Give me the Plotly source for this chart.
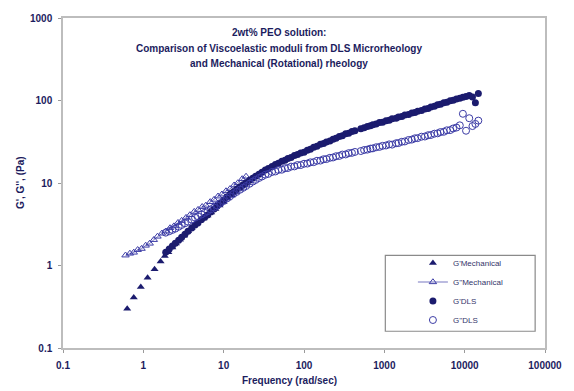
import plotly.graph_objects as go

# ---------------- data ----------------
mech_freq_gp = [0.63, 0.76, 0.93, 1.13, 1.38, 1.64, 1.85, 2.05, 2.3, 2.55,
                2.85, 3.2, 3.6, 4.0, 4.5, 5.0, 5.6, 6.3, 7.0, 7.9,
                8.9, 10, 11.2, 12.6, 14, 15.8, 17.7, 19.5]
mech_gp = [0.30, 0.41, 0.55, 0.71, 0.90, 1.12, 1.3, 1.45, 1.65, 1.85,
           2.05, 2.3, 2.6, 2.85, 3.15, 3.45, 3.7, 4.05, 4.4, 4.85,
           5.35, 5.9, 6.5, 7.1, 7.8, 8.5, 9.3, 10.0]

mech_freq_gpp = [0.6, 0.68, 0.76, 0.85, 0.95, 1.07, 1.2, 1.35, 1.5, 1.7,
                 1.9, 2.15, 2.4, 2.7, 3.0, 3.4, 3.8, 4.3, 4.8, 5.4,
                 6.0, 6.8, 7.6, 8.5, 9.5, 10.7, 12, 13.5, 15, 17, 19]
mech_gpp = [1.33, 1.40, 1.44, 1.55, 1.60, 1.75, 1.85, 2.05, 2.25, 2.45,
            2.6, 2.85, 3.0, 3.3, 3.5, 3.8, 4.1, 4.5, 4.75, 5.15,
            5.35, 5.9, 6.3, 6.9, 7.3, 8.0, 8.5, 9.4, 10.0, 11.2, 12.0]

dls_freq = [1.9, 2.1, 2.3, 2.5, 2.75, 3.0, 3.3, 3.6, 4.0, 4.4,
            4.8, 5.3, 5.8, 6.3, 6.9, 7.6, 8.3, 9.1, 10, 11,
            12, 13.2, 14.5, 16, 17.5, 19, 21, 23, 25, 27.5,
            30, 33, 36, 40, 44, 48, 53, 58, 63, 69,
            76, 83, 91, 100, 110, 120, 132, 145, 160, 175,
            190, 210, 230, 250, 275, 300, 330, 360, 395, 430,
            510, 560, 615, 670, 720, 790, 870, 950, 1050, 1150,
            1250, 1400, 1500, 1650, 1800, 2000, 2200, 2400, 2600, 2900,
            3200, 3500, 3800, 4200, 4600, 5000, 5500, 6000, 6600, 7200,
            7900, 8700, 9500, 10400, 11400, 12500, 13600, 14800]
dls_gp = [1.45, 1.58, 1.72, 1.86, 2.02, 2.2, 2.4, 2.6, 2.85, 3.1,
          3.3, 3.6, 3.85, 4.1, 4.45, 4.85, 5.25, 5.7, 6.2, 6.75,
          7.3, 7.8, 8.4, 9.0, 9.5, 10.1, 10.8, 11.4, 12.1, 12.8,
          13.5, 14.4, 15.0, 15.8, 16.8, 17.3, 18.3, 18.9, 19.8, 20.4,
          21.5, 22.1, 23.1, 23.6, 24.9, 25.6, 27.1, 27.8, 29.4, 30.2,
          31.5, 32.3, 34.0, 34.8, 36.6, 37.4, 39.4, 40.1, 42.0, 42.9,
          45.3, 46.6, 48.3, 49.3, 51.0, 51.8, 54.0, 54.6, 56.9, 57.8,
          59.9, 61.1, 63.2, 64.0, 66.6, 67.7, 70.6, 71.5, 74.2, 75.6,
          79.0, 80.2, 83.5, 84.9, 88.8, 89.8, 93.8, 95.0, 99.4, 100.5,
          104.0, 106.5, 109.5, 111.5, 115.0, 110.0, 94.0, 122.0]
dls_gpp = [2.5, 2.6, 2.7, 2.8, 2.95, 3.1, 3.25, 3.4, 3.6, 3.8,
           3.95, 4.15, 4.35, 4.55, 4.8, 5.05, 5.35, 5.7, 6.05, 6.5,
           6.9, 7.35, 7.8, 8.3, 8.75, 9.2, 9.8, 10.4, 10.9, 11.5,
           12.0, 12.6, 12.9, 13.6, 13.8, 14.4, 14.5, 15.1, 15.2, 15.8,
           15.9, 16.5, 16.5, 17.1, 17.2, 17.8, 17.9, 18.6, 18.7, 19.4,
           19.5, 20.2, 20.4, 21.1, 21.3, 22.1, 22.2, 23.0, 23.2, 23.8,
           24.4, 25.1, 25.4, 26.1, 26.3, 27.1, 27.4, 28.2, 28.5, 29.4,
           29.2, 30.3, 30.5, 31.6, 31.9, 33.2, 33.6, 34.8, 35.0, 36.4,
           36.6, 37.9, 38.2, 39.6, 40.0, 41.4, 41.8, 43.5, 43.8, 45.8,
           47.0, 50.0, 69.0, 43.0, 61.0, 49.0, 52.0, 57.0]

x_ticks = [0.1, 1, 10, 100, 1000, 10000, 100000]
x_tick_text = ["0.1", "1", "10", "100", "1000", "10000", "100000"]
y_ticks = [0.1, 1, 10, 100, 1000]
y_tick_text = ["0.1", "1", "10", "100", "1000"]

# ---------------- styling ----------------
NAVY = "#1b1b6e"
LIGHT = "#3c3ca6"
TXT = "#1c1c5e"
FONT = "Liberation Sans, Arial, sans-serif"

fig = go.Figure()
fig.add_trace(go.Scatter(x=mech_freq_gp, y=mech_gp, mode="markers", name="G'Mechanical",
                         marker=dict(symbol="triangle-up", size=7, color=NAVY)))
fig.add_trace(go.Scatter(x=mech_freq_gpp, y=mech_gpp, mode="lines+markers", name="G''Mechanical",
                         line=dict(color=LIGHT, width=0.7),
                         marker=dict(symbol="triangle-up-open", size=6.5, color=LIGHT,
                                     line=dict(width=1))))
fig.add_trace(go.Scatter(x=dls_freq, y=dls_gp, mode="markers", name="G'DLS",
                         marker=dict(symbol="circle", size=7, color=NAVY)))
fig.add_trace(go.Scatter(x=dls_freq, y=dls_gpp, mode="markers", name="G''DLS",
                         marker=dict(symbol="circle-open", size=7, color=LIGHT,
                                     line=dict(width=1))))

W, H = 574, 391
L, R, T, B = 63, 22, 13, 43
pw, ph = W - L - R, H - T - B


def px(xp):
    return (xp - L) / pw


def py(yp):
    return (H - B - yp) / ph


axis_common = dict(type="log", showgrid=False, zeroline=False, showline=True,
                   linecolor="#bdbdbd", linewidth=1.5, mirror=True, ticks="outside",
                   ticklen=3, tickcolor="#9a9a9a", tickmode="array",
                   tickfont=dict(family=FONT, size=10, color=TXT, weight="bold"))

fig.update_xaxes(range=[-1, 5], tickvals=x_ticks, ticktext=x_tick_text,
                 ticklabelstandoff=4, **axis_common)
fig.update_yaxes(range=[-1, 3], tickvals=y_ticks, ticktext=y_tick_text,
                 ticklabelstandoff=4, **axis_common)

annos = []
for txt, yp in [("2wt% PEO solution:", 28),
                ("Comparison of Viscoelastic moduli from DLS Microrheology", 44),
                ("and Mechanical (Rotational) rheology", 59)]:
    annos.append(dict(text=txt, x=px(282), y=py(yp), xref="paper", yref="paper",
                      showarrow=False, xanchor="center", yanchor="middle",
                      font=dict(family=FONT, size=10, color=TXT, weight="bold")))
annos.append(dict(text="Frequency (rad/sec)", x=px(293), y=py(381), xref="paper",
                  yref="paper", showarrow=False, xanchor="center", yanchor="middle",
                  font=dict(family=FONT, size=10, color=TXT, weight="bold")))
annos.append(dict(text="G', G'', (Pa)", x=px(20), y=py(180), xref="paper",
                  yref="paper", showarrow=False, xanchor="center", yanchor="middle",
                  textangle=-90,
                  font=dict(family=FONT, size=10, color=TXT, weight="bold")))

fig.update_layout(
    width=W, height=H,
    margin=dict(l=L, r=R, t=T, b=B),
    paper_bgcolor="white", plot_bgcolor="white",
    annotations=annos,
    shapes=[dict(type="rect", xref="paper", yref="paper",
                 x0=px(390), x1=px(542), y0=py(331), y1=py(254),
                 line=dict(color="#8a8a8a", width=1.2), fillcolor="rgba(0,0,0,0)")],
    legend=dict(x=px(418), y=py(247), xanchor="left", yanchor="top",
                bgcolor="rgba(0,0,0,0)", borderwidth=0,
                font=dict(family=FONT, size=8, color="#34346a"),
                tracegroupgap=0),
    showlegend=True,
)

fig.write_html("out.html")
